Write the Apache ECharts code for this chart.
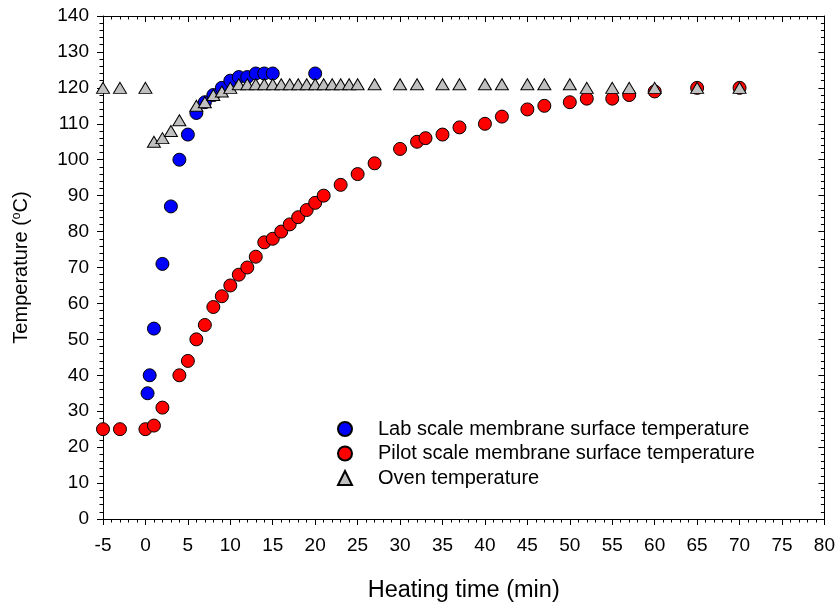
<!DOCTYPE html>
<html><head><meta charset="utf-8">
<script src="https://cdn.jsdelivr.net/npm/echarts@6/dist/echarts.min.js"></script>
<style>html,body{margin:0;padding:0;background:#fff}#c{width:838px;height:608px}</style>
</head><body><div id="c"></div>
<script>
var labX = [0.25,0.5,1,2,3,4,5,6,7,8,9,10,11,12,13,14,15,20];
var labY = [35,40,53,71,87,100,107,113,116,118,120,122,123,123,124,124,124,124];
var pilotX = [-5,-3,0,1,2,4,5,6,7,8,9,10,11,12,13,14,15,16,17,18,19,20,21,23,25,27,30,32,33,35,37,40,42,45,47,50,52,55,57,60,65,70];
var pilotY = [25,25,25,26,31,40,44,50,54,59,62,65,68,70,73,77,78,80,82,84,86,88,90,93,96,99,103,105,106,107,109,110,112,114,115,116,117,117,118,119,120,120];
var ovenX = [-5,-3,0,1,2,3,4,6,7,8,9,10,11,12,13,14,15,16,17,18,19,20,21,22,23,24,25,27,30,32,35,37,40,42,45,47,50,52,55,57,60,65,70];
var ovenY = [120,120,120,105,106,108,111,115,116,118,119,120,121,121,121,121,121,121,121,121,121,121,121,121,121,121,121,121,121,121,121,121,121,121,121,121,121,120,120,120,120,120,120];
var seriesNames = ['Lab scale membrane surface temperature','Pilot scale membrane surface temperature','Oven temperature'];

function pairs(xs, ys){ return xs.map(function(x,i){return [x, ys[i]];}); }

var font = 'Arial, "Liberation Sans", sans-serif';
var chart = echarts.init(document.getElementById('c'));
var lineStyle = {color:'#000', width:1};
chart.setOption({
  animation:false,
  backgroundColor:'#fff',
  grid:{left:103, top:16, width:723, height:506},
  legend:{
    orient:'vertical', left:332, top:414, itemGap:4.5, itemWidth:14, itemHeight:14,
    textStyle:{fontFamily:font, fontSize:20, color:'#000', padding:[0,0,0,21]},
    data:[
      {name:seriesNames[0], icon:'circle'},
      {name:seriesNames[1], icon:'circle'},
      {name:seriesNames[2], icon:'path://M0,-1L1,1L-1,1z'}
    ]
  },
  xAxis:[{
    type:'value', min:-5, max:80, interval:5, position:'bottom',
    axisLine:{show:true, onZero:false, lineStyle:lineStyle},
    axisTick:{show:true, length:6, inside:false, lineStyle:lineStyle},
    minorTick:{show:true, splitNumber:5, length:3.5, lineStyle:lineStyle},
    splitLine:{show:false},
    axisLabel:{fontFamily:font, fontSize:19, color:'#000', margin:17},
    name:'Heating time (min)', nameLocation:'middle', nameGap:60,
    nameTextStyle:{fontFamily:font, fontSize:23.5, color:'#000'}
  },{
    type:'value', min:-5, max:80, interval:5, position:'top',
    axisLine:{show:true, onZero:false, lineStyle:lineStyle},
    axisTick:{show:true, length:6, inside:true, lineStyle:lineStyle},
    minorTick:{show:true, splitNumber:5, length:3.5, lineStyle:lineStyle},
    splitLine:{show:false}, axisLabel:{show:false}
  }],
  yAxis:[{
    type:'value', min:0, max:140, interval:10, position:'left',
    axisLine:{show:true, onZero:false, lineStyle:lineStyle},
    axisTick:{show:true, length:6, inside:false, lineStyle:lineStyle},
    minorTick:{show:true, splitNumber:5, length:3.5, lineStyle:lineStyle},
    splitLine:{show:false},
    axisLabel:{fontFamily:font, fontSize:19, color:'#000', margin:14},
    name:'{a|Temperature (}{s|o}{a|C)}', nameLocation:'middle', nameGap:72,
    nameTextStyle:{fontFamily:font, fontSize:20, color:'#000',
      rich:{a:{fontFamily:font, fontSize:20, color:'#000'}, s:{fontFamily:font, fontSize:12, color:'#000', verticalAlign:'top', padding:[0,0,8,0]}}}
  },{
    type:'value', min:0, max:140, interval:10, position:'right',
    axisLine:{show:true, onZero:false, lineStyle:lineStyle},
    axisTick:{show:true, length:6, inside:true, lineStyle:lineStyle},
    minorTick:{show:true, splitNumber:5, length:3.5, lineStyle:lineStyle},
    splitLine:{show:false}, axisLabel:{show:false}
  }],
  series:[{
    name:seriesNames[0], type:'scatter', symbol:'circle', symbolSize:13,
    itemStyle:{color:'#0000ff', borderColor:'#000', borderWidth:1, opacity:1},
    data:pairs(labX, labY), z:2
  },{
    name:seriesNames[1], type:'scatter', symbol:'circle', symbolSize:13,
    itemStyle:{color:'#ff0000', borderColor:'#000', borderWidth:1, opacity:1},
    data:pairs(pilotX, pilotY), z:3
  },{
    name:seriesNames[2], type:'scatter', symbol:'triangle', symbolSize:[13,11],
    itemStyle:{color:'#c0c0c0', borderColor:'#000', borderWidth:1, opacity:1},
    data:pairs(ovenX, ovenY), z:4
  }]
});
</script></body></html>
